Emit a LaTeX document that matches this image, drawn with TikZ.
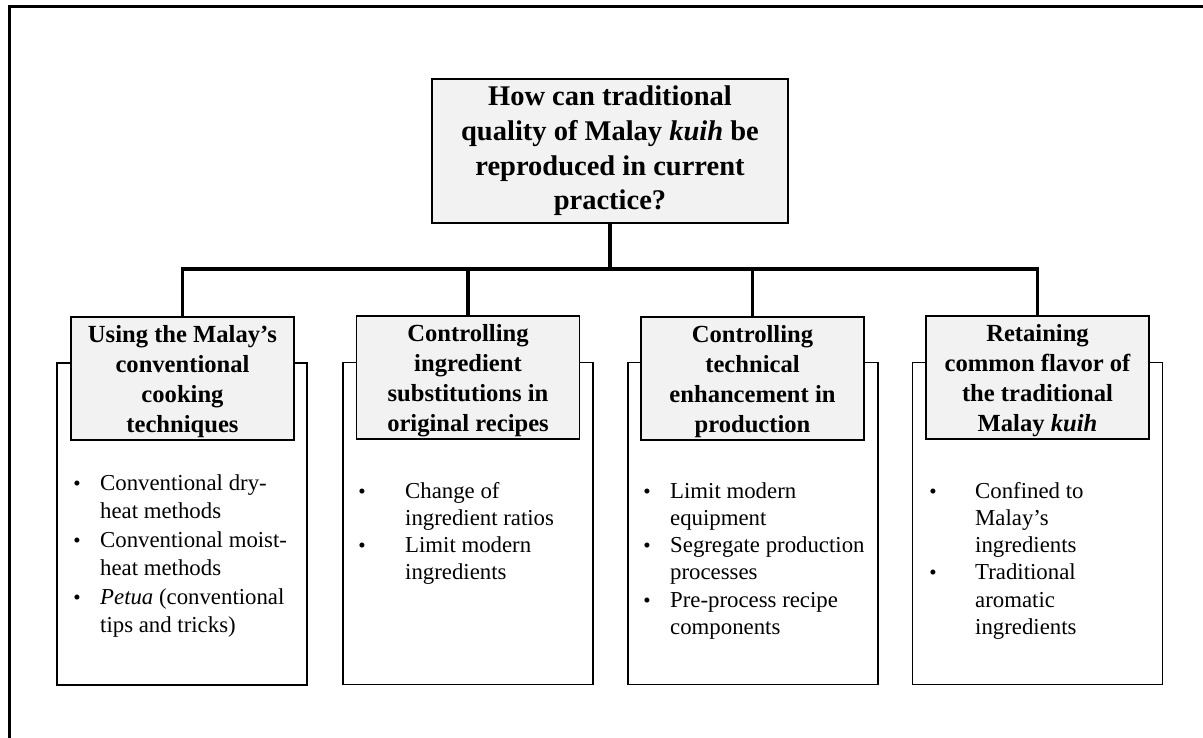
\documentclass[tikz,border=0pt]{standalone}
\usepackage{fontspec}
\setmainfont{Liberation Serif}
\definecolor{hdrfill}{HTML}{F2F2F2}
\begin{document}
\begin{tikzpicture}[x=1pt,y=-1pt,
  conn/.style={line width=3.2pt},
  topq/.style={draw, line width=1.6pt, fill=hdrfill, minimum width=356pt, minimum height=144pt,
    align=center, inner sep=0pt, font=\bfseries\fontsize{28.5}{34.7}\selectfont},
  hdr/.style={draw, line width=1.6pt, fill=hdrfill, minimum width=223pt, minimum height=123pt, inner sep=0pt},
  hdrtext/.style={align=center, inner sep=0pt, font=\bfseries\fontsize{24.6}{30.2}\selectfont},
  bodybox/.style={draw, line width=1.6pt, fill=white, minimum width=250pt, minimum height=322pt, inner sep=0pt},
  txt/.style={font=\fontsize{22.8}{27}\selectfont, inner sep=0pt, anchor=base west},
  bul/.style={font=\fontsize{21}{27}\selectfont, inner sep=0pt, anchor=base}]
\useasboundingbox (0,0) rectangle (1203,738);
% outer frame (partly cut off)
\draw[line width=3pt] (9,760) -- (9,7) -- (1230,7);

% content boxes
\node[bodybox] (c1) at (182,524) {};
\node[bodybox] (c2) at (468,523.5) {};
\node[bodybox] (c3) at (753,523.5) {};
\node[bodybox] (c4) at (1037.5,523.5) {};

% header boxes
\node[hdr] (h1) at (182.5,378.5) {};
\node[hdr] (h2) at (468,377.5) {};
\node[hdr] (h3) at (752.5,378.5) {};
\node[hdr] (h4) at (1037.5,377.5) {};
\node[hdrtext] (h1t) at ([yshift=-3pt]h1.center) {Using the Malay’s\\conventional\\cooking\\techniques};
\node[hdrtext] (h2t) at ([yshift=-3pt]h2.center) {Controlling\\ingredient\\substitutions in\\original recipes};
\node[hdrtext] (h3t) at ([yshift=-3pt]h3.center) {Controlling\\technical\\enhancement in\\production};
\node[hdrtext] (h4t) at ([yshift=-3pt]h4.center) {Retaining\\common flavor of\\the traditional\\Malay \textit{kuih}};

% top question
\node[topq] (q) at (610,151) {How can traditional\\quality of Malay \textit{kuih} be\\reproduced in current\\practice?};

% connectors
\coordinate (bar) at (610,269);
\draw[conn] (q.south) -- (bar);
\draw[conn] (h1.north) -- (h1.north |- bar) -- (h4.north |- bar) -- (h4.north);
\draw[conn] (h2.north) -- (h2.north |- bar);
\draw[conn] (h3.north) -- (h3.north |- bar);

% box 1 text
\foreach \t [count=\i] in {Conventional dry-,heat methods,Conventional moist-,heat methods,{\textit{Petua} (conventional},tips and tricks)}
  \node[txt] (ta\i) at (100,{490+28.5*(\i-1)}) {\t};
\foreach \j in {1,3,5}
  \node[bul] (ba\j) at (77,{490+28.5*(\j-1)}) {\textbullet};

% box 2 text
\foreach \t [count=\i] in {Change of,ingredient ratios,Limit modern,ingredients}
  \node[txt] (tb\i) at (405,{498+27.3*(\i-1)}) {\t};
\foreach \j in {1,3}
  \node[bul] (bb\j) at (362,{498+27.3*(\j-1)}) {\textbullet};

% box 3 text
\foreach \t [count=\i] in {Limit modern,equipment,Segregate production,processes,Pre-process recipe,components}
  \node[txt] (tc\i) at (670,{498+27.3*(\i-1)}) {\t};
\foreach \j in {1,3,5}
  \node[bul] (bc\j) at (647,{498+27.3*(\j-1)}) {\textbullet};

% box 4 text
\foreach \t [count=\i] in {Confined to,Malay’s,ingredients,Traditional,aromatic,ingredients}
  \node[txt] (td\i) at (975,{498+27.3*(\i-1)}) {\t};
\foreach \j in {1,4}
  \node[bul] (bd\j) at (933,{498+27.3*(\j-1)}) {\textbullet};
\end{tikzpicture}
\end{document}
